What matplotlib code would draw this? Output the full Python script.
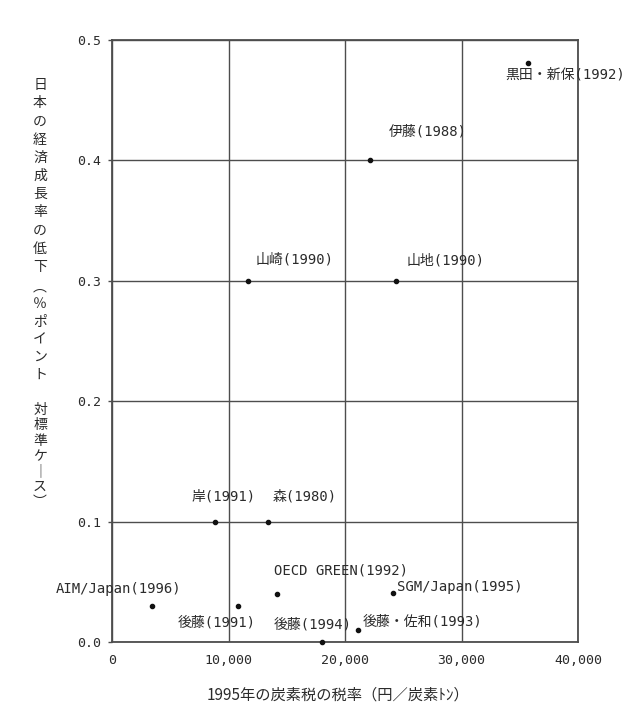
import matplotlib
matplotlib.use("Agg")
import matplotlib.pyplot as plt

# ---- data ----
studies = ["黒田・新保(1992)", "伊藤(1988)", "山崎(1990)", "山地(1990)", "岸(1991)", "森(1980)",
           "AIM/Japan(1996)", "後藤(1991)", "OECD GREEN(1992)", "SGM/Japan(1995)",
           "後藤(1994)", "後藤・佐和(1993)"]
tax_rate = [35700, 22150, 11670, 24380, 8840, 13390, 3400, 10800, 14160, 24100, 18000, 21100]
gdp_loss = [0.481, 0.40, 0.30, 0.30, 0.10, 0.10, 0.03, 0.03, 0.04, 0.041, 0.0, 0.01]
x_ticks = [0, 10000, 20000, 30000, 40000]
x_tick_labels = ["0", "10,000", "20,000", "30,000", "40,000"]
y_ticks = [0.0, 0.1, 0.2, 0.3, 0.4, 0.5]
y_tick_labels = ["0.0", "0.1", "0.2", "0.3", "0.4", "0.5"]
x_label = "1995年の炭素税の税率（円／炭素ﾄﾝ）"
y_label_parts = ["日本の経済成長率の低下", "︵％ポイント", "対標準ケ｜ス︶"]

# ---- label placement (pixels offset, alignment) ----
label_pos = {
    "黒田・新保(1992)": (-23, -12, "left"),
    "伊藤(1988)": (19, 29, "left"),
    "山崎(1990)": (8, 21, "left"),
    "山地(1990)": (11, 20, "left"),
    "岸(1991)": (-23, 25, "left"),
    "森(1980)": (5, 25, "left"),
    "AIM/Japan(1996)": (30, 17, "right"),
    "後藤(1991)": (-21, -17, "center"),
    "OECD GREEN(1992)": (-3, 23, "left"),
    "SGM/Japan(1995)": (4, 6, "left"),
    "後藤(1994)": (-9, 18, "center"),
    "後藤・佐和(1993)": (5, 8, "left"),
}

LINE = "#4d4d4d"
TXT = "#2b2b2b"
MONO = ["DejaVu Sans Mono", "Noto Sans CJK JP"]
CJK = ["Noto Sans CJK JP", "DejaVu Sans"]

W, H = 639, 718
fig = plt.figure(figsize=(W / 100, H / 100), dpi=100)
ax = fig.add_axes([112 / W, 1 - 642 / H, (578 - 112) / W, (642 - 40) / H])

ax.set_xlim(0, 40000)
ax.set_ylim(0, 0.5)
ax.set_xticks(x_ticks)
ax.set_xticklabels(x_tick_labels, family=MONO, fontsize=9.5, color=TXT)
ax.set_yticks(y_ticks)
ax.set_yticklabels(y_tick_labels, family=MONO, fontsize=9.5, color=TXT)
ax.tick_params(axis="x", length=0, pad=9)
ax.tick_params(axis="y", length=3, width=1, color=LINE, pad=5)
ax.grid(True, color=LINE, linewidth=1.0)
ax.set_axisbelow(True)
for s in ax.spines.values():
    s.set_color(LINE)
    s.set_linewidth(1.3)

ax.plot(tax_rate, gdp_loss, "o", color="#111111", markersize=3, clip_on=False, zorder=5)

for name, xv, yv in zip(studies, tax_rate, gdp_loss):
    dx, dy, ha = label_pos[name]
    ax.annotate(name, (xv, yv), xytext=(dx, dy), textcoords="offset pixels",
                ha=ha, va="center", family=MONO, fontsize=10, color=TXT,
                annotation_clip=False)

# x label
fig.text(338 / W, 1 - 695 / H, x_label, ha="center", va="center",
         family=CJK, fontsize=11, color=TXT)

# vertical y label, placed character by character
ys = []
p1, p2, p3 = y_label_parts
ys += [85 + 18.2 * i for i in range(len(p1))]
ys += [287 + 17.5 * i for i in range(len(p2))]
ys += [410 + 15.3 * i for i in range(len(p3))]
for ch, yy in zip(p1 + p2 + p3, ys):
    fig.text(40 / W, 1 - yy / H, ch, ha="center", va="center",
             family=CJK, fontsize=10, color=TXT)

fig.savefig("out.png", dpi=100, facecolor="white")
